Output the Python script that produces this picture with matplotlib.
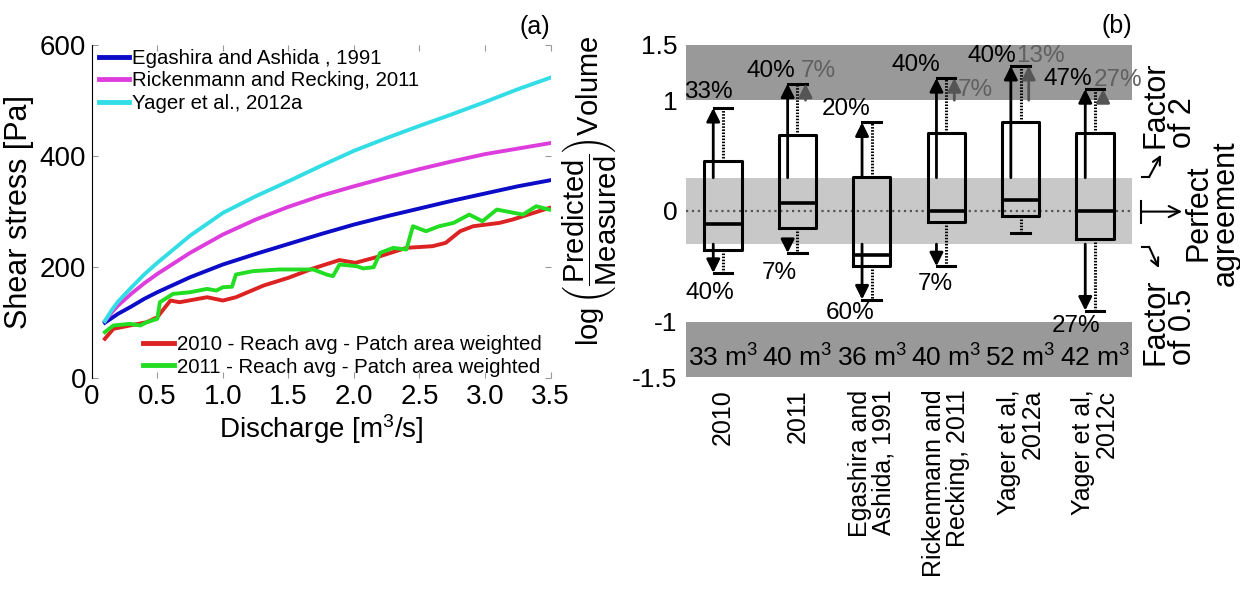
import matplotlib
matplotlib.use("Agg")
import matplotlib.pyplot as plt
from matplotlib.lines import Line2D

plt.rcParams['font.family'] = ['Liberation Sans', 'DejaVu Sans']
plt.rcParams['mathtext.fontset'] = 'custom'
plt.rcParams['mathtext.rm'] = 'Liberation Sans'
plt.rcParams['mathtext.it'] = 'Liberation Sans:italic'
plt.rcParams['mathtext.bf'] = 'Liberation Sans:bold'

# ---- panel (a) data: shear stress vs discharge ----
q_model = [0.1, 0.15, 0.2, 0.3, 0.4, 0.5, 0.75, 1.0, 1.25, 1.5, 1.75, 2.0, 2.25, 2.5, 2.75, 3.0, 3.25, 3.5]
tau_egashira = [100, 108, 116, 129, 143, 155, 182, 205, 224, 242, 260, 277, 292, 306, 320, 333, 346, 357]
tau_rickenmann = [103, 118, 131, 152, 171, 188, 226, 259, 286, 309, 329, 346, 362, 377, 391, 404, 414, 424]
tau_yager = [103, 122, 138, 163, 187, 208, 257, 298, 328, 355, 383, 410, 433, 455, 476, 498, 521, 542]

q_2010 = [0.10, 0.165, 0.29, 0.42, 0.50, 0.60, 0.67, 0.88, 1.00, 1.10, 1.31, 1.50, 1.69, 1.89,
          2.01, 2.20, 2.40, 2.60, 2.70, 2.81, 2.91, 3.11, 3.21, 3.49]
tau_2010 = [71, 89, 95, 101, 110, 140, 137, 146, 140, 146, 167, 181, 198, 213,
            208, 220, 235, 238, 244, 265, 274, 280, 286, 307]

q_2011 = [0.10, 0.165, 0.29, 0.37, 0.42, 0.50, 0.52, 0.62, 0.75, 0.88, 0.95, 1.00, 1.07, 1.10,
          1.23, 1.43, 1.69, 1.79, 1.84, 1.89, 2.02, 2.07, 2.15, 2.20, 2.30, 2.40, 2.45,
          2.55, 2.65, 2.76, 2.88, 2.98, 3.09, 3.29, 3.39, 3.49]
tau_2011 = [83, 95, 98, 95, 101, 107, 137, 152, 155, 161, 158, 164, 165, 187,
            193, 196, 196, 187, 184, 205, 202, 198, 200, 226, 235, 232, 274,
            265, 274, 280, 295, 283, 304, 295, 310, 304]

# ---- panel (b) data: log(predicted/measured) volume ----
categories = ['2010', '2011', 'Egashira and\nAshida, 1991', 'Rickenmann and\nRecking, 2011',
              'Yager et al,\n2012a', 'Yager et al,\n2012c']
q1 = [-0.35, -0.15, -0.50, -0.10, -0.05, -0.25]
med = [-0.12, 0.07, -0.40, 0.00, 0.10, 0.00]
q3 = [0.45, 0.69, 0.31, 0.70, 0.80, 0.70]
whis_lo = [-0.56, -0.38, -0.80, -0.50, -0.20, -0.90]
whis_hi = [0.93, 1.15, 0.80, 1.20, 1.31, 1.10]
pct_above2 = ['33%', '40%', '20%', '40%', '40%', '47%']
pct_above10 = ['', '7%', '', '7%', '13%', '27%']
pct_below = ['40%', '7%', '60%', '7%', '', '27%']
volumes = [33, 40, 36, 40, 52, 42]

fig = plt.figure(figsize=(12.4, 5.9), dpi=100)

# ================= (a) =================
ax = fig.add_axes([0.074, 0.359, 0.370, 0.564])
l1, = ax.plot(q_model, tau_egashira, color='#0b0bc8', lw=2.8)
l2, = ax.plot(q_model, tau_rickenmann, color='#dd3ddd', lw=2.8)
l3, = ax.plot(q_model, tau_yager, color='#33dde6', lw=2.8)
l4, = ax.plot(q_2010, tau_2010, color='#dd2222', lw=2.8)
l5, = ax.plot(q_2011, tau_2011, color='#22dd22', lw=2.8)

ax.set_xlim(0, 3.5)
ax.set_ylim(0, 600)
ax.set_xticks([0, 0.5, 1.0, 1.5, 2.0, 2.5, 3.0, 3.5])
ax.set_xticklabels(['0', '0.5', '1.0', '1.5', '2.0', '2.5', '3.0', '3.5'])
ax.set_yticks([0, 200, 400, 600])
ax.tick_params(direction='in', top=True, right=True, length=4, color='#999999',
               labelsize=20, pad=4)
for s in ['top', 'right', 'bottom']:
    ax.spines[s].set_visible(False)
ax.spines['left'].set_linewidth(0.8)
ax.set_xlabel('Discharge [m$^3$/s]', fontsize=20, labelpad=2)
ax.set_ylabel('Shear stress [Pa]', fontsize=22)
ax.yaxis.set_label_coords(-0.125, 0.5)
ax.text(1.0, 1.02, '(a)', transform=ax.transAxes, ha='right', va='bottom', fontsize=18)

leg1 = ax.legend([l1, l2, l3], ['Egashira and Ashida , 1991', 'Rickenmann and Recking, 2011',
                                'Yager et al., 2012a'],
                 loc='upper left', bbox_to_anchor=(0.015, 0.99), frameon=False, fontsize=14.7,
                 handlelength=1.5, handletextpad=0.15, labelspacing=0.18, borderaxespad=0, borderpad=0)
for h in leg1.legend_handles:
    h.set_linewidth(3.5)
ax.add_artist(leg1)
leg2 = ax.legend([l4, l5], ['2010 - Reach avg - Patch area weighted',
                            '2011 - Reach avg - Patch area weighted'],
                 loc='lower left', bbox_to_anchor=(0.112, 0.005), frameon=False, fontsize=14.7,
                 handlelength=1.5, handletextpad=0.15, labelspacing=0.18, borderaxespad=0, borderpad=0)
for h in leg2.legend_handles:
    h.set_linewidth(3.5)

# ================= (b) =================
bx = fig.add_axes([0.553, 0.361, 0.360, 0.563])
pos = list(range(1, len(categories) + 1))
bx.set_xlim(0.5, 6.5)
bx.set_ylim(-1.5, 1.5)
bx.axhspan(1, 1.5, color='#999999', lw=0, zorder=0)
bx.axhspan(-1.5, -1, color='#999999', lw=0, zorder=0)
bx.axhspan(-0.3, 0.3, color='#c8c8c8', lw=0, zorder=0)
bx.axhline(0, color='#555555', ls=':', lw=1.6, zorder=1)

stats = [dict(med=m, q1=a, q3=b, whislo=lo, whishi=hi, fliers=[])
         for m, a, b, lo, hi in zip(med, q1, q3, whis_lo, whis_hi)]
bx.bxp(stats, positions=pos, widths=0.5, showfliers=False, manage_ticks=False, capwidths=0.25,
       boxprops=dict(color='k', lw=2.2),
       whiskerprops=dict(color='k', lw=2.2, linestyle=(0, (0.5, 0.5))),
       capprops=dict(color='k', lw=2.2),
       medianprops=dict(color='k', lw=2.6))

arrow_kw = dict(arrowstyle='-|>', lw=2, shrinkA=0, shrinkB=0, mutation_scale=20)
for p, lo, hi in zip(pos, whis_lo, whis_hi):
    if hi > 0.3:
        bx.annotate('', xy=(p - 0.13, hi), xytext=(p - 0.13, 0.3),
                    arrowprops=dict(color='k', **arrow_kw))
    if hi > 1.0:
        bx.annotate('', xy=(p + 0.11, hi), xytext=(p + 0.11, 1.0),
                    arrowprops=dict(color='#555555', **arrow_kw))
    if lo < -0.3:
        bx.annotate('', xy=(p - 0.13, lo), xytext=(p - 0.13, -0.3),
                    arrowprops=dict(color='k', **arrow_kw))

# percentage label placement (layout only)
up_dx = [-0.19, -0.35, -0.35, -0.41, -0.38, -0.36]
up_dy = [0.14, 0.115, 0.12, 0.12, 0.085, 0.09]
grey_dx = [0, 0.28, 0, 0.39, 0.27, 0.31]
grey_dy = [0, 0.115, 0, -0.105, 0.085, 0.085]
dn_dx = [-0.18, -0.24, -0.29, -0.15, 0, -0.26]
dn_dy = [-0.18, -0.18, -0.125, -0.16, 0, -0.14]
for i, p in enumerate(pos):
    bx.text(p + up_dx[i], whis_hi[i] + up_dy[i], pct_above2[i], ha='center', va='center',
            fontsize=17.5, color='k')
    if pct_above10[i]:
        bx.text(p + grey_dx[i], whis_hi[i] + grey_dy[i], pct_above10[i], ha='center',
                va='center', fontsize=17.5, color='#606060')
    if pct_below[i]:
        bx.text(p + dn_dx[i], whis_lo[i] + dn_dy[i], pct_below[i], ha='center', va='center',
                fontsize=17.5, color='k')
    bx.text(p, -1.33, f'{volumes[i]} m$^3$', ha='center', va='center', fontsize=19)

bx.set_xticks(pos)
bx.set_xticklabels(categories, rotation=90, multialignment='right', fontsize=18,
                   linespacing=1.0)
bx.set_yticks([-1.5, -1, 0, 1, 1.5])
bx.set_yticklabels(['-1.5', '-1', '0', '1', '1.5'])
bx.tick_params(axis='y', length=0, labelsize=19, pad=6)
bx.tick_params(axis='x', length=0, pad=9)
for s in bx.spines.values():
    s.set_visible(False)
bx.set_ylabel(r'$\log\left(\dfrac{\mathrm{Predicted}}{\mathrm{Measured}}\right)$Volume', fontsize=21)
bx.yaxis.set_label_coords(-0.15, 0.56)
bx.text(1.0, 1.02, '(b)', transform=bx.transAxes, ha='right', va='bottom', fontsize=18)

# right-hand annotations
tr = bx.transAxes
bx.text(1.083, 0.69, 'Factor\nof 2', transform=tr, rotation=90, ha='center', va='bottom',
        multialignment='left', fontsize=22, linespacing=0.9)
bx.add_line(Line2D([1.022, 1.038], [0.602, 0.602], transform=tr, color='k', lw=1.5,
                   clip_on=False))
bx.annotate('', xy=(1.065, 0.669), xytext=(1.038, 0.602), xycoords=tr, textcoords=tr,
            arrowprops=dict(arrowstyle='->', color='k', lw=1.5, mutation_scale=14,
                            shrinkA=0, shrinkB=0))
bx.add_line(Line2D([1.021, 1.021], [0.463, 0.53], transform=tr, color='k', lw=1.5,
                   clip_on=False))
bx.annotate('', xy=(1.112, 0.498), xytext=(1.021, 0.498), xycoords=tr, textcoords=tr,
            arrowprops=dict(arrowstyle='->', color='k', lw=1.5, mutation_scale=20,
                            shrinkA=0, shrinkB=0))
bx.text(1.179, 0.494, 'Perfect\nagreement', transform=tr, rotation=90, ha='center',
        va='center', multialignment='center', fontsize=22, linespacing=0.9)
bx.add_line(Line2D([1.022, 1.038], [0.392, 0.392], transform=tr, color='k', lw=1.5,
                   clip_on=False))
bx.annotate('', xy=(1.060, 0.328), xytext=(1.038, 0.392), xycoords=tr, textcoords=tr,
            arrowprops=dict(arrowstyle='->', color='k', lw=1.5, mutation_scale=14,
                            shrinkA=0, shrinkB=0))
bx.text(1.083, 0.035, 'Factor\nof 0.5', transform=tr, rotation=90, ha='center', va='bottom',
        multialignment='left', fontsize=22, linespacing=0.9)

fig.savefig('out.png', dpi=100)
